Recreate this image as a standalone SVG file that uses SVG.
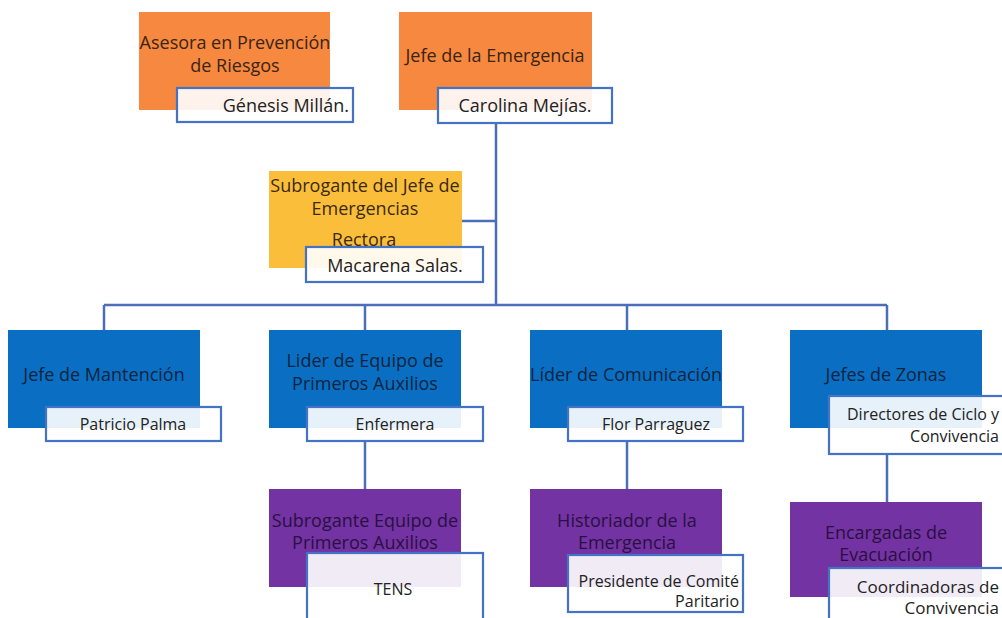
<svg xmlns="http://www.w3.org/2000/svg" width="1002" height="618" viewBox="0 0 1002 618">
<style>
.t{font-family:"Open Sans","Liberation Sans",sans-serif;font-size:18px;text-anchor:middle}
.s{font-size:16px}
.r{text-anchor:end}
.or{fill:#F6883F}.ye{fill:#FBBE3A}.bl{fill:#0A6FC2}.pu{fill:#7333A3}
.nb{fill:#fff;fill-opacity:0.9;stroke:#4472C4;stroke-width:2.2}
.to{fill:#3a2414}.ty{fill:#3a2a10}.tb{fill:#0d2440}.tp{fill:#2a0f42}.tn{fill:#222}
.c{stroke:#4A6FB8;stroke-width:2.5;fill:none}
</style>
<rect width="1002" height="618" fill="#fff"/>
<g id="connectors">
<path class="c" d="M496 123V305M462 221H496M104 305H887M104 305V330M365 305V330M627 305V330M887 305V330M365 441V489M627 441V489M887 454V502"/>
</g>
<g id="asesora">
<rect class="or" x="139" y="12" width="191" height="98"/>
<text class="t to" x="235" y="49">Asesora en Prevención</text>
<text class="t to" x="235" y="72">de Riesgos</text>
<rect class="nb" x="177" y="88" width="176" height="34"/>
<text class="t tn r" x="349" y="112">Génesis Millán.</text>
</g>
<g id="jefe">
<rect class="or" x="399" y="12" width="193" height="98"/>
<text class="t to" x="495" y="62">Jefe de la Emergencia</text>
<rect class="nb" x="438" y="88" width="174" height="35"/>
<text class="t tn" x="525" y="112">Carolina Mejías.</text>
</g>
<g id="subrogante">
<rect class="ye" x="269" y="171" width="193" height="97"/>
<text class="t ty" x="365" y="192">Subrogante del Jefe de</text>
<text class="t ty" x="365" y="215">Emergencias</text>
<text class="t ty" x="364" y="246">Rectora</text>
<rect class="nb" x="306" y="247" width="177" height="35"/>
<text class="t tn" x="395" y="272">Macarena Salas.</text>
</g>
<g id="mantencion">
<rect class="bl" x="8" y="330" width="192" height="98"/>
<text class="t tb" x="104" y="381">Jefe de Mantención</text>
<rect class="nb" x="46" y="407" width="175" height="34"/>
<text class="t s tn" x="133" y="430">Patricio Palma</text>
</g>
<g id="primeros">
<rect class="bl" x="269" y="330" width="192" height="98"/>
<text class="t tb" x="365" y="367">Lider de Equipo de</text>
<text class="t tb" x="365" y="390">Primeros Auxilios</text>
<rect class="nb" x="307" y="407" width="176" height="34"/>
<text class="t s tn" x="395" y="430">Enfermera</text>
</g>
<g id="comunicacion">
<rect class="bl" x="530" y="330" width="192" height="98"/>
<text class="t tb" x="626" y="381">Líder de Comunicación</text>
<rect class="nb" x="568" y="407" width="175" height="34"/>
<text class="t s tn" x="656" y="430">Flor Parraguez</text>
</g>
<g id="zonas">
<rect class="bl" x="790" y="330" width="192" height="98"/>
<text class="t tb" x="886" y="381">Jefes de Zonas</text>
<rect class="nb" x="829" y="396" width="180" height="58"/>
<text class="t s tn r" x="999" y="420">Directores de Ciclo y</text>
<text class="t s tn r" x="999" y="442">Convivencia</text>
</g>
<g id="subrogante-pa">
<rect class="pu" x="269" y="489" width="192" height="98"/>
<text class="t tp" x="365" y="527">Subrogante Equipo de</text>
<text class="t tp" x="365" y="549">Primeros Auxilios</text>
<rect class="nb" x="307" y="553" width="176" height="70"/>
<text class="t s tn" x="393" y="595">TENS</text>
</g>
<g id="historiador">
<rect class="pu" x="530" y="489" width="192" height="98"/>
<text class="t tp" x="627" y="527">Historiador de la</text>
<text class="t tp" x="627" y="549">Emergencia</text>
<rect class="nb" x="568" y="555" width="175" height="57"/>
<text class="t s tn r" x="739" y="587">Presidente de Comité</text>
<text class="t s tn r" x="739" y="607">Paritario</text>
</g>
<g id="evacuacion">
<rect class="pu" x="790" y="502" width="192" height="95"/>
<text class="t tp" x="886" y="539">Encargadas de</text>
<text class="t tp" x="886" y="561">Evacuación</text>
<rect class="nb" x="829" y="568" width="180" height="60"/>
<text class="t s tn r" x="999" y="593" style="font-size:17px">Coordinadoras de</text>
<text class="t s tn r" x="999" y="614" style="font-size:17px">Convivencia</text>
</g>
</svg>
